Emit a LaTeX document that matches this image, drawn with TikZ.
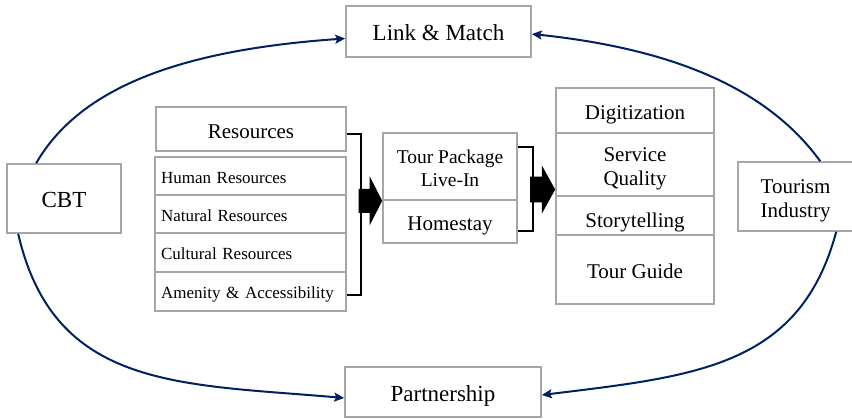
\documentclass[tikz,border=0pt]{standalone}
\usepackage{fontspec}
\setmainfont{Liberation Serif}
\usetikzlibrary{arrows.meta,calc}
\definecolor{navy}{RGB}{0,32,96}
\definecolor{boxgray}{RGB}{166,166,166}
\begin{document}
\begin{tikzpicture}[x=1pt,y=1pt,
  box/.style={draw=boxgray, line width=1.6pt, fill=white, inner sep=0pt, align=center},
  big/.style={font=\fontsize{23}{26}\selectfont, text height=23.5pt, text depth=4.6pt},
  midone/.style={font=\fontsize{21}{24}\selectfont, text height=22.9pt, text depth=4.2pt},
  midtwo/.style={font=\fontsize{21}{24}\selectfont, text height=46.9pt, text depth=4.2pt},
  pk/.style={font=\fontsize{19.5}{22.5}\selectfont, text height=43pt, text depth=3.9pt},
  small/.style={font=\fontsize{17}{19}\selectfont, text height=18.3pt, text depth=3.4pt},
  row/.style={box, small, minimum width=191pt, text width=179pt, inner xsep=6pt, align=left},
  brk/.style={draw=black, line width=2.2pt},
  conn/.style={draw=navy, line width=2pt, -{Stealth[length=10pt,width=9pt,inset=2pt]}},
]
\useasboundingbox (0,0) rectangle (852,418);

\node[box,big,minimum width=185pt,minimum height=51pt] (link) at (438.5,386.5) {Link \& Match};
\node[box,big,minimum width=196pt,minimum height=50pt] (part) at (443,26) {Partnership};
\node[box,big,minimum width=114pt,minimum height=69pt] (cbt) at (64,219.5) {CBT};
\node[box,midtwo,minimum width=115pt,minimum height=69pt] (tind) at (795.5,221.5) {Tourism\\Industry};

\node[box,midone,minimum width=190pt,minimum height=44pt] (res) at (251,289) {Resources};
\node[row,minimum height=38pt] (human) at (250.5,242) {Human Resources};
\node[row,minimum height=38pt] (natural) at (250.5,204) {Natural Resources};
\node[row,minimum height=39pt] (cultural) at (250.5,165.5) {Cultural Resources};
\node[row,minimum height=39pt] (amen) at (250.5,126.5) {Amenity \& Accessibility};

\node[box,pk,minimum width=134pt,minimum height=67pt] (pkg) at (450,251.5) {Tour Package\\Live-In};
\node[box,midone,minimum width=134pt,minimum height=43pt] (home) at (450,196.5) {Homestay};

\node[box,midone,minimum width=158pt,minimum height=45pt] (digit) at (635,307.5) {Digitization};
\node[box,midtwo,minimum width=158pt,minimum height=63pt] (serv) at (635,253.5) {Service\\Quality};
\node[box,midone,text height=29pt,minimum width=158pt,minimum height=39pt] (story) at (635,202.5) {Storytelling};
\node[box,midone,minimum width=158pt,minimum height=69pt] (guide) at (635,148.5) {Tour Guide};

% brackets
\draw[brk] ([yshift=-5pt]res.east) -- ++(14.5,0) |- ([yshift=-3.5pt]amen.east);
\draw[brk] ([yshift=19.2pt]pkg.east) -- ++(15,0) |- ([yshift=-9.5pt]home.east);

% block arrows
\fill[black] (pkg.south west) -- ++(-12.5,24.5) -- ++(0,-12.5) -- ++(-11,0) -- ++(0,-24) -- ++(11,0) -- ++(0,-12.5) -- cycle;
\fill[black] ([yshift=-25pt]serv.west) -- ++(-13.4,24.2) -- ++(0,-11.4) -- ++(-11.6,0) -- ++(0,-25.6) -- ++(11.6,0) -- ++(0,-11.4) -- cycle;

% curved connectors
\draw[conn] ([xshift=30pt]cbt.north west) .. controls +(60:90) and +(184:160) .. ([yshift=-7pt]link.west);
\draw[conn] ([xshift=83pt]tind.north west) .. controls +(126:85) and +(-6:150) .. ([yshift=-2.5pt]link.east);
\draw[conn] ([xshift=12pt]cbt.south west) .. controls +(-77:160) and +(175:165) .. ([yshift=-6pt]part.west);
\draw[conn] ([xshift=99pt]tind.south west) .. controls +(-105:140) and +(7:155) .. ([yshift=-3pt]part.east);
\end{tikzpicture}
\end{document}
